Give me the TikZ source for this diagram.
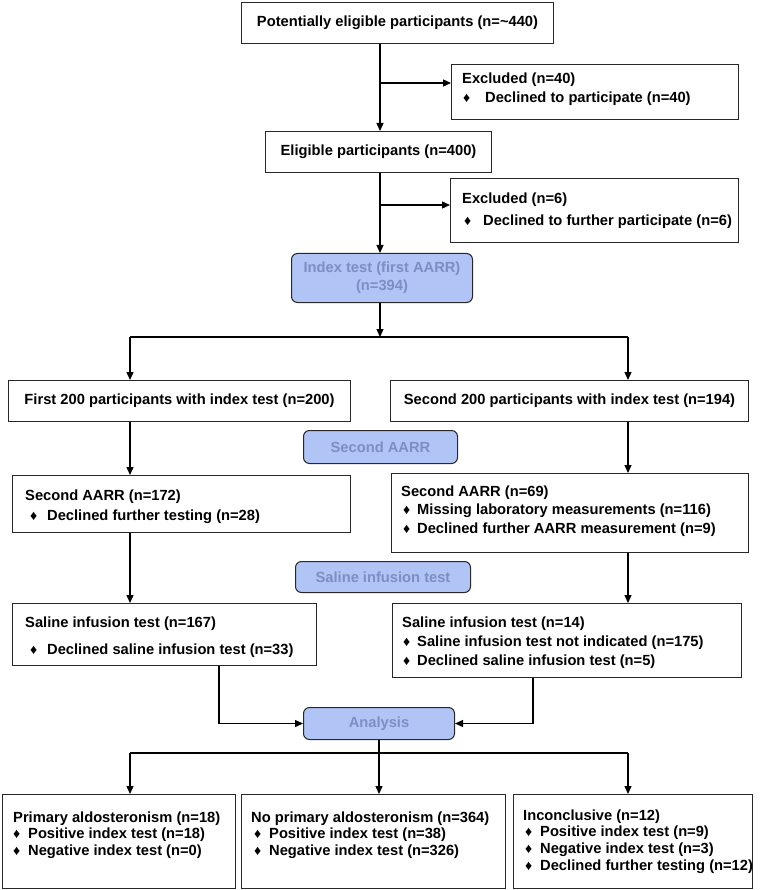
\documentclass[tikz,border=0pt]{standalone}
\usepackage{fontspec}
\setmainfont{Liberation Sans}
\usetikzlibrary{arrows.meta}
\definecolor{bluefill}{RGB}{176,196,246}
\definecolor{bluetext}{RGB}{122,143,196}
\definecolor{edgegray}{RGB}{40,40,40}
\newcommand{\dmd}[1]{\makebox[#1][l]{\fontsize{14}{14}\selectfont\char"2666}}
\begin{document}
\begin{tikzpicture}[x=1pt,y=-1pt,
  box/.style={draw=edgegray, line width=1pt, fill=white, inner sep=0pt, anchor=north west,
    font=\bfseries\fontsize{14.7}{17}\selectfont},
  bluebox/.style={draw=edgegray, line width=1pt, fill=bluefill, rounded corners=6pt, inner sep=0pt,
    anchor=north west, align=center, text=bluetext, font=\bfseries\fontsize{14.7}{18}\selectfont},
  txt/.style={anchor=north west, inner sep=0pt, align=left, font=\bfseries\fontsize{14.7}{#1}\selectfont},
  arr/.style={-{Triangle[length=8pt,width=7pt]}, line width=1.3pt},
  ln/.style={line width=1.3pt}]
\fill[white] (0,0) rectangle (768,890);
\useasboundingbox (0,0) rectangle (768,890);

% boxes
\node[box, minimum width=312pt, minimum height=41pt] (top) at (241,2) {Potentially eligible participants (n=\textasciitilde440)};
\node[box, minimum width=287pt, minimum height=55pt] (excl1) at (451,64) {};
\node[box, minimum width=226pt, minimum height=41pt] (elig) at (265,131) {Eligible participants (n=400)};
\node[box, minimum width=288pt, minimum height=64pt] (excl2) at (450,178) {};
\node[bluebox, minimum width=181pt, minimum height=49pt] (index) at (291,253) {Index test (first AARR)\\(n=394)};
\node[box, minimum width=342pt, minimum height=41pt] (first) at (8,380) {First 200 participants with index test (n=200)};
\node[box, minimum width=358pt, minimum height=41pt] (second) at (390,380) {Second 200 participants with index test (n=194)};
\node[bluebox, minimum width=154pt, minimum height=33pt] (aarr) at (303,430) {Second AARR};
\node[box, minimum width=338pt, minimum height=57pt] (laarr) at (12,475) {};
\node[box, minimum width=357pt, minimum height=79pt] (raarr) at (391,473) {};
\node[bluebox, minimum width=175pt, minimum height=31pt] (sal) at (295,561) {Saline infusion test};
\node[box, minimum width=304pt, minimum height=62pt] (lsal) at (12,603) {};
\node[box, minimum width=349pt, minimum height=74pt] (rsal) at (392,603) {};
\node[bluebox, minimum width=151pt, minimum height=32pt] (analysis) at (303,707) {Analysis};
\node[box, minimum width=233pt, minimum height=94pt] (pa) at (2,794) {};
\node[box, minimum width=264pt, minimum height=94pt] (nopa) at (241,794) {};
\node[box, minimum width=239pt, minimum height=94pt] (inc) at (513,794) {};

% texts
\node[txt=19] (t1) at (462,72.4) {Excluded (n=40)\\\hspace*{1pt}\dmd{22pt}Declined to participate (n=40)};
\node[txt=22] (t2) at (462,192.4) {Excluded (n=6)\\\hspace*{2pt}\dmd{19pt}Declined to further participate (n=6)};
\node[txt=20] (t3) at (25,489.4) {Second AARR (n=172)\\\hspace*{5pt}\dmd{17pt}Declined further testing (n=28)};
\node[txt=18.5] (t4) at (401,485.4) {Second AARR (n=69)\\\hspace*{2pt}\dmd{14pt}Missing laboratory measurements (n=116)\\\hspace*{2pt}\dmd{14pt}Declined further AARR measurement (n=9)};
\node[txt=27] (t5) at (25,616.4) {Saline infusion test (n=167)\\\hspace*{5pt}\dmd{17pt}Declined saline infusion test (n=33)};
\node[txt=19] (t6) at (402,616.4) {Saline infusion test (n=14)\\\hspace*{1pt}\dmd{14pt}Saline infusion test not indicated (n=175)\\\hspace*{1pt}\dmd{14pt}Declined saline infusion test (n=5)};
\node[txt=16.5] (t7) at (13,811.4) {Primary aldosteronism (n=18)\\\dmd{15pt}Positive index test (n=18)\\\dmd{15pt}Negative index test (n=0)};
\node[txt=16.5] (t8) at (251,811.4) {No primary aldosteronism (n=364)\\\hspace*{3pt}\dmd{15pt}Positive index test (n=38)\\\hspace*{3pt}\dmd{15pt}Negative index test (n=326)};
\node[txt=16.7] (t9) at (523,809.4) {Inconclusive (n=12)\\\hspace*{2pt}\dmd{15pt}Positive index test (n=9)\\\hspace*{2pt}\dmd{15pt}Negative index test (n=3)\\\hspace*{2pt}\dmd{15pt}Declined further testing (n=12)};

% helper coordinates
\coordinate (mx) at (380,0);
\coordinate (ax) at (379,0);
\coordinate (lx) at (130,0);
\coordinate (rx) at (628,0);
\coordinate (ly) at (219,0);
\coordinate (ry) at (533,0);
\coordinate (e1) at (0,83);
\coordinate (e2) at (0,205);
\coordinate (s1) at (0,337);
\coordinate (s2) at (0,753);

% connectors
\draw[arr] (top.south -| mx) -- (elig.north -| mx);
\draw[arr] (e1 -| mx) -- (e1 -| excl1.west);
\draw[arr] (elig.south -| mx) -- (index.north -| mx);
\draw[arr] (e2 -| mx) -- (e2 -| excl2.west);
\draw[arr] (index.south -| mx) -- (s1 -| mx);
\draw[ln] (s1 -| lx) -- (s1 -| rx);
\draw[arr] (s1 -| lx) -- (first.north -| lx);
\draw[arr] (s1 -| rx) -- (second.north -| rx);
\draw[arr] (first.south -| lx) -- (laarr.north -| lx);
\draw[arr] (laarr.south -| lx) -- (lsal.north -| lx);
\draw[arr] (second.south -| rx) -- (raarr.north -| rx);
\draw[arr] (raarr.south -| rx) -- (rsal.north -| rx);
\draw[arr] (lsal.south -| ly) |- (analysis.west);
\draw[arr] (rsal.south -| ry) |- (analysis.east);
\draw[arr] (analysis.south -| ax) -- (nopa.north -| ax);
\draw[ln] (s2 -| lx) -- (s2 -| rx);
\draw[arr] (s2 -| lx) -- (pa.north -| lx);
\draw[arr] (s2 -| rx) -- (inc.north -| rx);
\end{tikzpicture}
\end{document}
